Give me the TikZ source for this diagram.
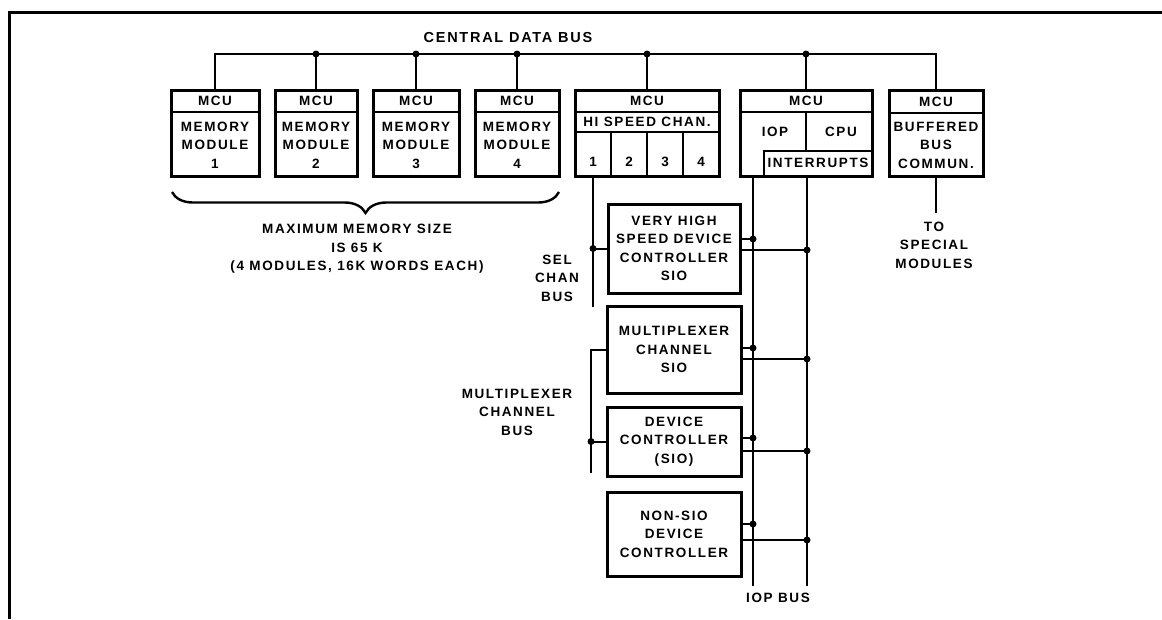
\documentclass[tikz,border=0pt]{standalone}
\usepackage{fontspec}
\newfontfamily\diagfont{Liberation Sans}[LetterSpace=12]
\usetikzlibrary{calc,decorations.pathreplacing}

\begin{document}
\begin{tikzpicture}[x=1pt, y=-1pt,
  every node/.style={font=\diagfont\bfseries\fontsize{13.5}{18.5}\selectfont,
    inner sep=0pt, align=center},
  unitbox/.style={draw, line width=3pt, outer sep=0pt, minimum height=86pt},
  divline/.style={line width=2pt},
  busline/.style={line width=2pt},
  bracel/.style={line width=2.4pt, decorate,
    decoration={brace, mirror, amplitude=21pt}},
  jdot/.style={circle, fill, minimum size=7pt}]

\useasboundingbox (0,0) rectangle (1162,619);

% frame
\draw[line width=3pt] (1162,12) -- (9,12) -- (9,619);

% memory modules
\foreach \x/\w/\m in {215/88/1, 316/82/2, 416/86/3, 517/84/4} {
  \node[unitbox, minimum width=\w] (mem\m) at (\x,133) {};
  \draw[divline] ($(mem\m.north west)+(0,22)$) -- ($(mem\m.north east)+(0,22)$);
  \node (mcu\m) at (\x,101) {MCU};
  \node (memtxt\m) at (\x,145) {MEMORY\\MODULE\\\m};
}

% hi speed channel
\node[unitbox, minimum width=144] (hsc) at (647,133) {};
\draw[divline] ($(hsc.north west)+(0,22)$) -- ($(hsc.north east)+(0,22)$);
\draw[divline] ($(hsc.north west)+(0,42)$) -- ($(hsc.north east)+(0,42)$);
\node (hscmcu) at (647,101) {MCU};
\node (hsctxt) at (647,122) {HI SPEED CHAN.};
\foreach \k in {1,...,4}
  \node (cell\k) at ($(hsc.south west)+(36*\k-18,-14)$) {\k};
\foreach \k in {1,2,3}
  \draw[divline] ($(hsc.south west)+(36*\k,0)$) -- ++(0,-44);

% iop / cpu
\node[unitbox, minimum width=132] (cpu) at (806,133) {};
\draw[divline] ($(cpu.north west)+(0,22)$) -- ($(cpu.north east)+(0,22)$);
\draw[divline] ($(cpu.north)+(0,22)$) -- ($(cpu.north)+(0,61)$);
\draw[divline] ($(cpu.south west)+(24,0)$) |- ($(cpu.north east)+(0,61)$);
\node (cpumcu) at (806,101) {MCU};
\node (ioptxt) at (775,132) {IOP};
\node (cputxt) at (841,132) {CPU};
\node (inttxt) at (818,163) {INTERRUPTS};

% buffered bus
\node[unitbox, minimum width=94] (bbc) at (936,133) {};
\draw[divline] ($(bbc.north west)+(0,23)$) -- ($(bbc.north east)+(0,23)$);
\node (bbcmcu) at (936,102) {MCU};
\node (bbctxt) at (936,145) {BUFFERED\\BUS\\COMMUN.};

% device boxes
\node[unitbox, minimum width=132, minimum height=89] (vhsd) at (674,248.5)
  {VERY HIGH\\SPEED DEVICE\\CONTROLLER\\SIO};
\node[unitbox, minimum width=134, minimum height=87] (mux) at (674,349.5)
  {MULTIPLEXER\\CHANNEL\\SIO};
\node[unitbox, minimum width=134, minimum height=69] (dev) at (674,441.5)
  {DEVICE\\CONTROLLER\\(SIO)};
\node[unitbox, minimum width=134, minimum height=84] (nonsio) at (674,534)
  {NON-SIO\\DEVICE\\CONTROLLER};

% central data bus
\coordinate (busL) at (215,54);
\coordinate (busR) at (936,54);
\draw[busline] (mem1.north) -- (busL) -- (busR) -- (bbc.north);
\foreach \b in {mem2,mem3,mem4,hsc,cpu}
  \draw[busline] (\b.north) -- (\b.north |- busL) node[jdot] {};
\node[font=\diagfont\bfseries\fontsize{14.5}{18.5}\selectfont] (cdbus) at (508,38)
  {CENTRAL DATA BUS};

% memory brace
\draw[bracel] ($(mem1.south west)+(1,16)$) -- ($(mem4.south east)+(0,16)$);
\node (memsize) at (357,249) {MAXIMUM MEMORY SIZE\\IS 65 K\\(4 MODULES, 16K WORDS EACH)};

% sel chan bus
\coordinate (selb) at (593,307);
\draw[busline] (cell1 |- hsc.south) -- (selb);
\draw[busline] (vhsd.west) -- (vhsd.west -| selb) node[jdot] {};
\node (seltxt) at (557,278) {SEL\\CHAN\\BUS};

% multiplexer channel bus
\coordinate (mxb) at (591,473);
\draw[busline] (mux.west) -| (mxb);
\draw[busline] (dev.west) -- (dev.west -| mxb) node[jdot] {};
\node (mxtxt) at (517,412) {MULTIPLEXER\\CHANNEL\\BUS};

% iop bus
\coordinate (iopL) at (753,586);
\coordinate (iopR) at (807,586);
\draw[busline] (cpu.south -| iopL) -- (iopL);
\draw[busline] (cpu.south -| iopR) -- (iopR);
\foreach \b/\u/\v in {vhsd/-9.5/1.5, mux/-1.5/9.5, dev/-3.5/9.5, nonsio/-10/6} {
  \coordinate (\b-a) at ($(\b.east)+(0,\u)$);
  \coordinate (\b-b) at ($(\b.east)+(0,\v)$);
  \draw[busline] (\b-a) -- (\b-a -| iopL) node[jdot] {};
  \draw[busline] (\b-b) -- (\b-b -| iopR) node[jdot] {};
}
\node (iopbus) at (778,598) {IOP BUS};

% to special modules
\coordinate (bbcend) at (936,213);
\draw[busline] (bbc.south) -- (bbcend);
\node (spectxt) at (934,245) {TO\\SPECIAL\\MODULES};

\end{tikzpicture}
\end{document}
